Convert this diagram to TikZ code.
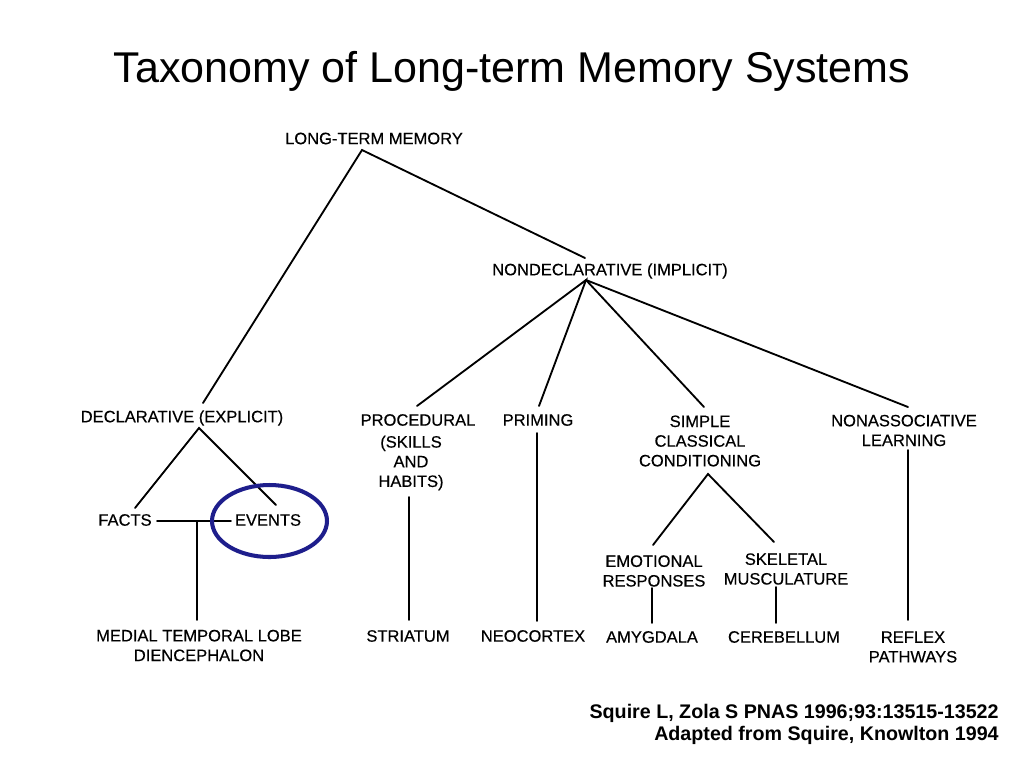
\documentclass[tikz,border=0pt]{standalone}
\usepackage{fontspec}
\setmainfont{Liberation Sans}
\newfontfamily\lblfont[FakeBold=0.35]{Liberation Sans}
\begin{document}
\begin{tikzpicture}[x=0.02cm,y=-0.02cm,
  lbl/.style={font=\lblfont\fontsize{9.4}{11.2}\selectfont, align=center, inner sep=2pt},
  conn/.style={line width=1.05pt, black, line cap=round},
  ring/.style={line width=2.3pt, draw={rgb,255:red,30;green,30;blue,140}},
  titlestyle/.style={font=\fontsize{24.5}{28}\selectfont, inner sep=0pt, anchor=base},
  refstyle/.style={font=\bfseries\fontsize{11.2}{13.5}\selectfont, inner sep=0pt, anchor=base east}]
\useasboundingbox (0,0) rectangle (1024,768);
\fill[white] (0,0) rectangle (1024,768);

% title and reference
\node[titlestyle] (title) at (512,82) {Taxonomy of Long-term Memory Systems};
\node[refstyle] (ref1) at (999,718) {Squire L, Zola S PNAS 1996;93:13515-13522};
\node[refstyle] (ref2) at (999,740) {Adapted from Squire, Knowlton 1994};

% labels
\node[lbl] (ltm) at (374,138.5) {LONG-TERM MEMORY};
\node[lbl] (nondecl) at (610,271) {NONDECLARATIVE (IMPLICIT)};
\node[lbl] (decl) at (182,418) {DECLARATIVE (EXPLICIT)};
\node[lbl] (facts) at (125,520) {FACTS};
\node[lbl] (events) at (268,520) {EVENTS};
\node[lbl] (mtl) at (199,645.5) {MEDIAL TEMPORAL LOBE\\DIENCEPHALON};
\node[lbl] (proc) at (418,420) {PROCEDURAL};
\node[lbl] (skills) at (411,463) {(SKILLS\\AND\\HABITS)};
\node[lbl] (priming) at (538,420) {PRIMING};
\node[lbl] (scc) at (700,441) {SIMPLE\\CLASSICAL\\CONDITIONING};
\node[lbl] (nonassoc) at (904,430.5) {NONASSOCIATIVE\\LEARNING};
\node[lbl] (emo) at (654,571) {EMOTIONAL\\RESPONSES};
\node[lbl] (skel) at (786,569) {SKELETAL\\MUSCULATURE};
\node[lbl] (striatum) at (408,636) {STRIATUM};
\node[lbl] (neocortex) at (533,636) {NEOCORTEX};
\node[lbl] (amyg) at (652,637) {AMYGDALA};
\node[lbl] (cereb) at (784,637) {CEREBELLUM};
\node[lbl] (reflex) at (913,647) {REFLEX\\PATHWAYS};

% connector end points
\coordinate (ltmB) at (362,150);
\coordinate (declT) at (203,403);
\coordinate (nondT) at (585,258);
\coordinate (nondB) at (586,280);
\coordinate (procT) at (417,406);
\coordinate (primT) at (539,406);
\coordinate (sccT) at (704,407);
\coordinate (naT) at (908,407);
\coordinate (declB) at (199,428);
\coordinate (factsT) at (135,508);
\coordinate (eventsT) at (276,505);
\coordinate (factsR) at (157,521);
\coordinate (eventsL) at (231,521);
\coordinate (junc) at (197,521);
\coordinate (mtlT) at (197,620);
\coordinate (procB) at (409,497);
\coordinate (striT) at (409,620);
\coordinate (primB) at (537,433);
\coordinate (neoT) at (537,621);
\coordinate (sccB) at (708,474);
\coordinate (emoT) at (653,545);
\coordinate (skelT) at (774,542);
\coordinate (emoB) at (652,588);
\coordinate (amyT) at (652,623);
\coordinate (skelB) at (776,587);
\coordinate (cerT) at (776,623);
\coordinate (naB) at (908,450);
\coordinate (refT) at (908,620);

% connectors
\draw[conn] (declT) -- (ltmB) -- (nondT);
\draw[conn] (procT) -- (nondB) -- (primT);
\draw[conn] (nondB) -- (sccT);
\draw[conn] (nondB) -- (naT);
\draw[conn] (factsT) -- (declB) -- (eventsT);
\draw[conn] (factsR) -- (eventsL);
\draw[conn] (junc) -- (mtlT);
\draw[conn] (procB) -- (striT);
\draw[conn] (primB) -- (neoT);
\draw[conn] (emoT) -- (sccB) -- (skelT);
\draw[conn] (emoB) -- (amyT);
\draw[conn] (skelB) -- (cerT);
\draw[conn] (naB) -- (refT);

% highlight ring
\draw[ring] (269.5,521) ellipse [x radius=1.15cm, y radius=0.72cm];
\end{tikzpicture}
\end{document}
